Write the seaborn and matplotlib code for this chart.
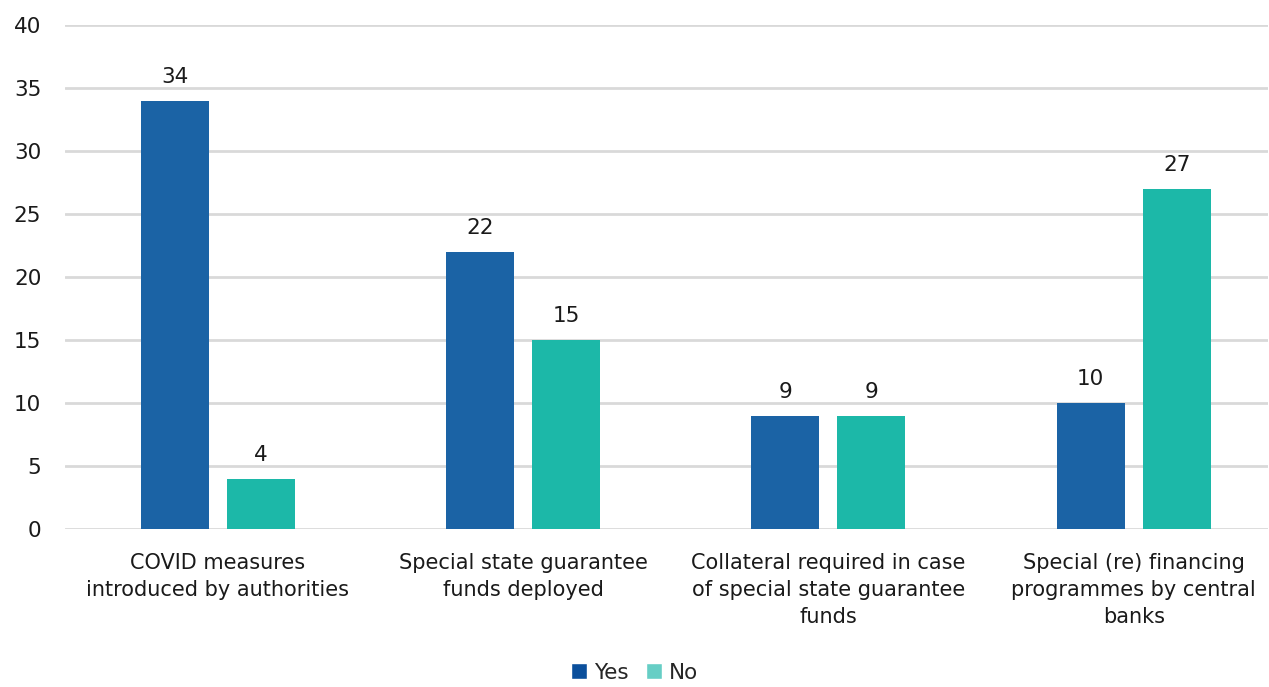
import numpy as np
import pandas as pd
import matplotlib.pyplot as plt
from matplotlib.patches import Patch
import seaborn as sns

categories = [
    "COVID measures\nintroduced by authorities",
    "Special state guarantee\nfunds deployed",
    "Collateral required in case\nof special state guarantee\nfunds",
    "Special (re) financing\nprogrammes by central\nbanks",
]
yes_vals = [34, 22, 9, 10]
no_vals = [4, 15, 9, 27]
series = ["Yes", "No"]

bar_colors = {"Yes": "#1B63A5", "No": "#1CB8A8"}
legend_colors = {"Yes": "#0B4F9C", "No": "#66CEC5"}

df = pd.DataFrame({
    "category": categories * 2,
    "answer": ["Yes"] * len(categories) + ["No"] * len(categories),
    "count": yes_vals + no_vals,
})

sns.set_theme(style="white")
plt.rcParams["font.family"] = ["DejaVu Sans"]

fig = plt.figure(figsize=(12.69, 6.87), dpi=100)
ax = fig.add_axes([0.0512, 0.23, 0.948, 0.7336])

sns.barplot(data=df, x="category", y="count", hue="answer", hue_order=series,
            palette=bar_colors, width=0.564, gap=0.21, saturation=1,
            linewidth=0, legend=False, ax=ax)

for cont in ax.containers:
    ax.bar_label(cont, fmt="%d", padding=10, fontsize=15.5, color="#1a1a1a")

ax.set_ylim(0, 40)
ax.set_yticks(np.arange(0, 41, 5))
ax.set_xlim(-0.5, 3.44)
ax.yaxis.grid(True, color="#D9D9D9", linewidth=2)
ax.set_axisbelow(True)
for s in ax.spines.values():
    s.set_visible(False)
ax.set_xlabel("")
ax.set_ylabel("")
ax.tick_params(axis="y", labelsize=15.5, pad=17, length=0, colors="#1a1a1a")
ax.tick_params(axis="x", labelsize=15, pad=17, length=0, colors="#1a1a1a")
for t in ax.get_xticklabels():
    t.set_linespacing(1.45)

handles = [Patch(facecolor=legend_colors[s], label=s) for s in series]
fig.legend(handles=handles, loc="lower center", bbox_to_anchor=(0.5, -0.022),
           ncol=2, frameon=False, fontsize=15.5, handlelength=0.75,
           handleheight=0.75, handletextpad=0.3, columnspacing=0.8)

fig.savefig("out.png", dpi=100)
